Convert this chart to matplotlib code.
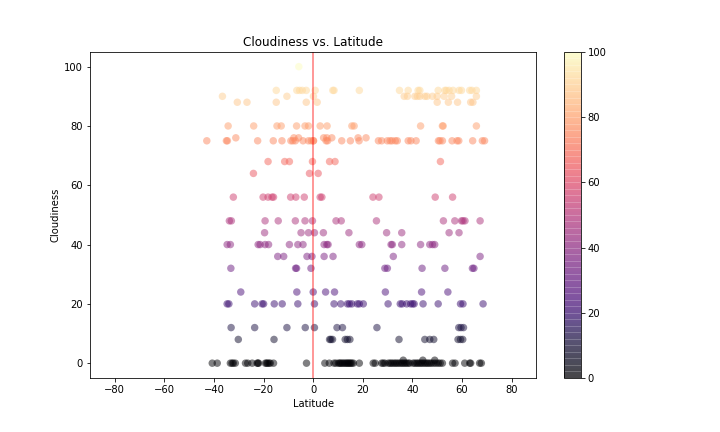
import numpy as np
import matplotlib
matplotlib.use('Agg')
import matplotlib.pyplot as plt

lat_100 = [-5.8]
lat_92 = [-14.9, -6.6, -5.5, -4.4, -2.8, 0.8, 7.9, 8.4, 18.6, 34.8, 38.3, 42.3, 43, 50.4, 53.1, 53.7, 54.8, 56.4, 58.8, 59.8, 63.1, 64, 65.8]
lat_90 = [-36.6, -10.6, 0.1, 36.7, 38, 41, 42, 43, 45, 45.9, 48.1, 50, 52.8, 55.8, 65.8]
lat_88 = [-30.6, -26.7, -14.9, -2.8, 1.6, 50, 54.5, 58.2, 63.5, 64.4]
lat_80 = [-34.3, -24, -14.6, -12.9, -6.7, -3.3, -1.9, 2.8, 5.6, 15.6, 16.5, 43.3, 52.1, 52.4, 65.8]
lat_76 = [-31.2, -7.8, -5.9, 4.2, 5.5, 7.5, 18.1, 21.3]
lat_75 = [-42.9, -35, -34.6, -22.4, -16.1, -12.6, -9, -8.2, -7.2, -4.1, -1.9, -0.8, 0.1, 0.1, 5.2, 5.8, 11.5, 15, 18.5,
          26.3, 27.6, 29.9, 31, 31.8, 33.1, 33.9, 38.3, 39.4, 41.5, 50.5, 51.1, 52.1, 56, 58, 58.7, 64.3, 68.2, 69.1]
lat_68 = [-18.2, -11.5, -9.6, -0.3, 6.6, 8.8, 51.3]
lat_64 = [-24.1, -1.5, 2]
lat_56 = [-32.2, -20.2, -18.2, -16.6, -16, -9.1, -7, -3.6, 2.8, 3.5, 24.1, 26.5, 49.2, 56.2]
lat_48 = [-33.8, -33, -19.4, -14.1, -7.2, -3.3, -0.3, 9.2, 11.3, 25.5, 52.5, 57.1, 59.8, 60.4, 61.2, 67.3]
lat_44 = [-19.6, -4.9, -1.9, 0.5, 4.1, 14.4, 29.6, 35.7, 54.8, 58.8]
lat_40 = [-34.7, -33.4, -22.2, -21.4, -19.4, -18, -9.6, -6.2, -4.1, 4.4, 5.5, 6, 18.6, 19.6, 31.4, 31.9, 35.7, 43.3, 47, 48.1, 49]
lat_36 = [-14.3, -11.9, -2.5, -0.5, 4.4, 8, 32.3, 67.3]
lat_32 = [-33.2, -7.1, -6.7, -0.9, 28.9, 29.9, 43.9, 53.1, 64.2, 64.8]
lat_24 = [-29.2, -6.6, 0, 5, 8.6, 29.1, 43.7, 54.3]
lat_20 = [-34.7, -34, -23.6, -20.6, -20, -15.7, -12.5, -6.2, 0.5, 8.4, 11.1, 13.8, 14.6, 15.6, 17.8, 18.6, 20.2, 30.2, 35.1,
          35.9, 37.7, 39.3, 40.1, 40.7, 44.3, 50.4, 59.4, 60.4, 68.5]
lat_12 = [-33.1, -23.6, -10.6, -3.2, 0.5, 9.6, 11.8, 25.7, 58.7, 59.6, 60.6]
lat_8 = [-30.2, -15.8, 6.6, 7.1, 7.8, 12.9, 13.8, 14.8, 34.6, 45, 47, 48.6, 58.4, 59.4, 60.3]
lat_1 = [36.3, 44.2, 49]
lat_0 = [-40.7, -38.7, -33.4, -32.7, -32.2, -31.4, -27.3, -26.4, -24.6, -22.6, -22.3, -22, -19.3, -18.8, -18.4, -17.8, -17.3, -16, -2.7,
         4.7, 6.5, 8.4, 9.2, 10.2, 10.7, 11.1, 11.7, 12.2, 12.8, 13.3, 13.8, 14.2, 14.7, 15.1, 15.6, 16.2, 18.6, 24.2, 25, 27.6, 28.2, 28.9, 30.3,
         31, 31.6, 32.3, 33, 33.6, 34.3, 35, 35.7, 36.3, 37, 37.6, 38.3, 38.9, 40.3, 41, 41.7, 42.3, 43, 43.6, 44.3, 45, 45.7, 46.3, 47, 47.7, 48.6,
         49.5, 50.4, 51.2, 52.1, 56.2, 57.2, 61.1, 63.1, 63.5, 67.1, 67.8]

levels = [100, 92, 90, 88, 80, 76, 75, 68, 64, 56, 48, 44, 40, 36, 32, 24, 20, 12, 8, 1, 0]
lats = [lat_100, lat_92, lat_90, lat_88, lat_80, lat_76, lat_75, lat_68, lat_64, lat_56, lat_48, lat_44,
        lat_40, lat_36, lat_32, lat_24, lat_20, lat_12, lat_8, lat_1, lat_0]

x, y = [], []
for level, group in zip(levels, lats):
    x += group
    y += [level] * len(group)

fig = plt.figure(figsize=(10, 6), dpi=72)
plt.subplots_adjust(bottom=0.125)
pts = plt.scatter(x, y, c=y, s=56, linewidths=0, cmap='magma', alpha=0.5, vmin=0, vmax=100)
plt.axvline(0, color='red', alpha=0.4, linewidth=2)
cbar = plt.colorbar(pts)
# reference colorbar is stronger than the dots, with faint light seams
cbar.solids.set_alpha(0.72)
cbar.ax.hlines(range(2, 100, 2), 0, 1, color='white', alpha=0.3, linewidth=0.7)
plt.xlim(-90, 90)
plt.ylim(-5, 105)
plt.title('Cloudiness vs. Latitude')
plt.xlabel('Latitude')
plt.ylabel('Cloudiness')
plt.savefig('out.png', dpi=72)
